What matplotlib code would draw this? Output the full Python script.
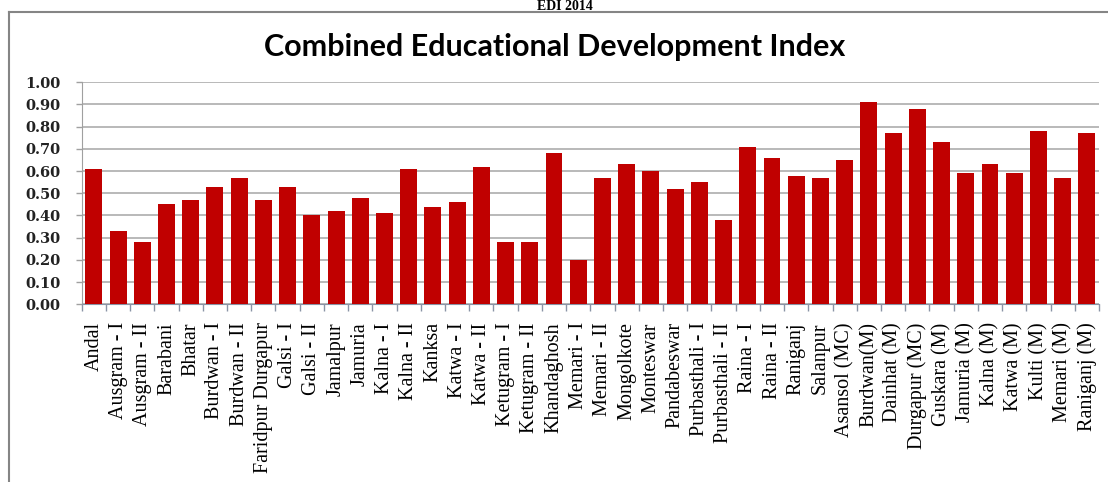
import matplotlib.pyplot as plt
from matplotlib.lines import Line2D
import numpy as np

# blocks and municipalities of Burdwan district
blocks = ['Andal', 'Ausgram - I', 'Ausgram - II', 'Barabani', 'Bhatar',
          'Burdwan - I', 'Burdwan - II', 'Faridpur Durgapur', 'Galsi - I',
          'Galsi - II', 'Jamalpur', 'Jamuria', 'Kalna - I', 'Kalna - II',
          'Kanksa', 'Katwa - I', 'Katwa - II', 'Ketugram - I', 'Ketugram - II',
          'Khandaghosh', 'Memari - I', 'Memari - II', 'Mongolkote', 'Monteswar',
          'Pandabeswar', 'Purbasthali - I', 'Purbasthali - II', 'Raina - I',
          'Raina - II', 'Raniganj', 'Salanpur', 'Asansol (MC)', 'Burdwan(M)',
          'Dainhat (M)', 'Durgapur (MC)', 'Guskara (M)', 'Jamuria (M)',
          'Kalna (M)', 'Katwa (M)', 'Kulti (M)', 'Memari (M)', 'Raniganj (M)']

# combined EDI values
edi = [0.61, 0.33, 0.28, 0.45, 0.47, 0.53, 0.57, 0.47, 0.53, 0.40,
       0.42, 0.48, 0.41, 0.61, 0.44, 0.46, 0.62, 0.28, 0.28, 0.68,
       0.20, 0.57, 0.63, 0.60, 0.52, 0.55, 0.38, 0.71, 0.66, 0.58,
       0.57, 0.65, 0.91, 0.77, 0.88, 0.73, 0.59, 0.63, 0.59, 0.78,
       0.57, 0.77]

yticks = np.arange(0, 1.01, 0.1)

W, H = 1108, 482
fig = plt.figure(figsize=(W / 100, H / 100), dpi=100)
fig.patch.set_facecolor('white')

ax = fig.add_axes([81.7 / W, 1 - 304.3 / H, (1099 - 81.7) / W, (304.3 - 82.3) / H])
x = np.arange(len(blocks))
ax.bar(x, edi, width=0.7, color='#C00000', zorder=3)

ax.set_xlim(-0.5, len(blocks) - 0.5)
ax.set_ylim(0, 1.0)

# category boundaries get the tick marks, names sit in the middle
ax.set_xticks(np.arange(len(blocks) + 1) - 0.5)
ax.set_xticklabels([])
ax.set_xticks(x, minor=True)
ax.set_xticklabels(blocks, minor=True, rotation=90, fontsize=14.5,
                   family='Liberation Serif', va='top', ha='center')
ax.tick_params(axis='x', which='major', length=5, color='#8a94a6', width=1)
ax.tick_params(axis='x', which='minor', length=0, pad=13)

ax.set_yticks(yticks)
ax.set_yticklabels(['%.2f' % v for v in yticks], family='DejaVu Serif',
                   fontweight='bold', fontsize=10.5, color='#222222')
ax.tick_params(axis='y', length=4, color='#a0a0a0', width=1, pad=11)

ax.grid(axis='y', color='#a6a6a6', lw=1.1, zorder=0)
for s in ['top', 'right']:
    ax.spines[s].set_visible(False)
ax.spines['left'].set_color('#a0a0a0')
ax.spines['bottom'].set_color('#8a94a6')

fig.text(555 / W, 1 - 47 / H, 'Combined Educational Development Index',
         ha='center', va='center', fontsize=22, fontweight='bold', family='Lato')

# heading above the chart frame
fig.text(565 / W, 1 - 10.5 / H, 'EDI 2014', ha='center', va='baseline',
         fontsize=10, fontweight='bold', family='Liberation Serif')

# chart frame
fig.add_artist(Line2D([8.5 / W, 1.0], [1 - 12 / H, 1 - 12 / H], color='#858585', lw=1.5))
fig.add_artist(Line2D([8.5 / W, 8.5 / W], [0, 1 - 12 / H], color='#858585', lw=1.5))

fig.savefig('out.png', dpi=100)
